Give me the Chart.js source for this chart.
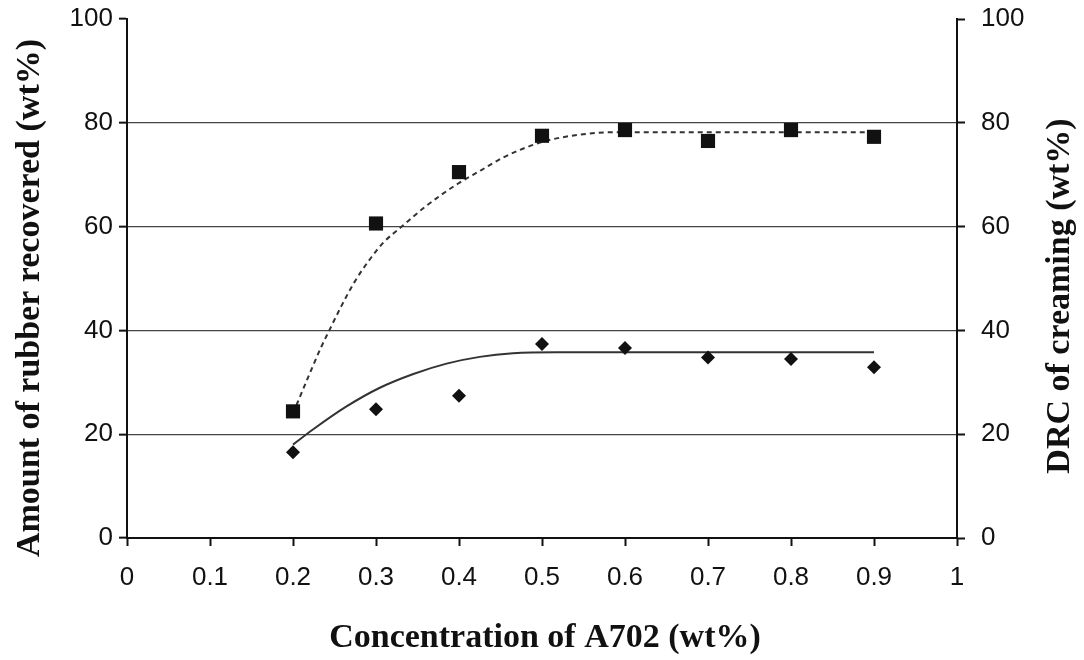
<!DOCTYPE html>
<html>
<head>
<meta charset="utf-8">
<script src="https://cdn.jsdelivr.net/npm/chart.js@4"></script>
<style>
  body { margin: 0; background: #fff; }
  canvas { display: block; }
</style>
</head>
<body>
<canvas id="chart" width="1084" height="660"></canvas>
<script>
// data
const concentration = [0.2, 0.3, 0.4, 0.5, 0.6, 0.7, 0.8, 0.9];
const rubberRecovered = [24.4, 60.6, 70.5, 77.5, 78.6, 76.5, 78.6, 77.3];
const drcCreaming = [16.5, 24.8, 27.4, 37.4, 36.6, 34.8, 34.5, 32.9];

// trend curves
const recoveredTrendX = [0.2, 0.206, 0.222, 0.234, 0.244, 0.258, 0.274, 0.294, 0.31, 0.331, 0.359, 0.399, 0.427, 0.453, 0.5, 0.54, 0.589, 0.65, 0.905];
const recoveredTrendY = [24, 26.3, 32.4, 36.8, 40.1, 44.6, 49.3, 54, 57.1, 60, 63.8, 68.3, 70.9, 73.3, 76.3, 77.6, 78.2, 78.2, 78.2];
const drcTrendX = [0.2, 0.224, 0.264, 0.304, 0.345, 0.385, 0.425, 0.465, 0.517, 0.6, 0.9];
const drcTrendY = [18, 20.9, 25.3, 28.9, 31.6, 33.6, 34.9, 35.6, 35.8, 35.8, 35.8];

const xTickLabels = ['0', '0.1', '0.2', '0.3', '0.4', '0.5', '0.6', '0.7', '0.8', '0.9', '1'];
const yTickLabels = ['0', '20', '40', '60', '80', '100'];

const toPoints = (xs, ys) => xs.map((x, i) => ({ x: x, y: ys[i] }));

const tickFont = { family: '"Liberation Sans", Arial, sans-serif', size: 26 };

// axis titles drawn by hand so they sit where the original has them
const axisTitles = {
  id: 'axisTitles',
  afterDraw(chart) {
    const ctx = chart.ctx;
    ctx.save();
    ctx.fillStyle = '#111';
    ctx.font = 'bold 34px "Liberation Serif", "Times New Roman", serif';
    ctx.textAlign = 'center';
    ctx.textBaseline = 'middle';
    ctx.fillText('Concentration of A702 (wt%)', 545, 638);

    ctx.save();
    ctx.translate(30, 298);
    ctx.rotate(-Math.PI / 2);
    ctx.fillText('Amount of rubber recovered (wt%)', 0, 0);
    ctx.restore();

    ctx.save();
    ctx.translate(1060, 296);
    ctx.rotate(-Math.PI / 2);
    ctx.fillText('DRC of creaming (wt%)', 0, 0);
    ctx.restore();
    ctx.restore();
  }
};

// keep the plot box fixed, whatever the tick labels need
const fitVertical = (w) => (scale) => {
  scale.width = w;
  scale.paddingTop = 0;
  scale.paddingBottom = 0;
};

new Chart(document.getElementById('chart'), {
  type: 'scatter',
  data: {
    datasets: [
      {
        label: 'Rubber recovered',
        data: toPoints(concentration, rubberRecovered),
        pointStyle: 'rect',
        pointRadius: 10,
        backgroundColor: '#111',
        borderColor: '#111',
        borderWidth: 0,
        yAxisID: 'y'
      },
      {
        label: 'DRC of creaming',
        data: toPoints(concentration, drcCreaming),
        pointStyle: 'rectRot',
        pointRadius: 7,
        backgroundColor: '#111',
        borderColor: '#111',
        borderWidth: 0,
        yAxisID: 'y2'
      },
      {
        label: 'Recovered trend',
        type: 'line',
        data: toPoints(recoveredTrendX, recoveredTrendY),
        borderColor: '#333',
        borderWidth: 2,
        borderDash: [5, 4],
        pointRadius: 0,
        cubicInterpolationMode: 'monotone',
        fill: false,
        yAxisID: 'y'
      },
      {
        label: 'DRC trend',
        type: 'line',
        data: toPoints(drcTrendX, drcTrendY),
        borderColor: '#333',
        borderWidth: 2,
        pointRadius: 0,
        cubicInterpolationMode: 'monotone',
        fill: false,
        yAxisID: 'y2'
      }
    ]
  },
  options: {
    responsive: false,
    animation: false,
    layout: { padding: { top: 19, left: 0, right: 0, bottom: 0 } },
    plugins: {
      legend: { display: false },
      tooltip: { enabled: false }
    },
    scales: {
      x: {
        type: 'linear',
        min: 0,
        max: 1,
        ticks: {
          stepSize: 0.1,
          color: '#111',
          font: tickFont,
          padding: 16,
          maxRotation: 0,
          callback: (v, i) => xTickLabels[i]
        },
        grid: {
          drawOnChartArea: false,
          drawTicks: true,
          tickLength: 8,
          tickColor: '#111',
          tickWidth: 2
        },
        border: { color: '#111', width: 2 },
        afterFit: (scale) => {
          scale.height = 122;
          scale.paddingLeft = 0;
          scale.paddingRight = 0;
        }
      },
      y: {
        position: 'left',
        min: 0,
        max: 100,
        ticks: {
          stepSize: 20,
          color: '#111',
          font: tickFont,
          padding: 6,
          callback: (v, i) => yTickLabels[i]
        },
        grid: {
          color: (c) => (c.tick && (c.tick.value === 0 || c.tick.value === 100)) ? 'rgba(0,0,0,0)' : '#444',
          lineWidth: 1.3,
          drawTicks: true,
          tickLength: 8,
          tickColor: '#111',
          tickWidth: 2
        },
        border: { color: '#111', width: 2 },
        afterFit: fitVertical(127)
      },
      y2: {
        position: 'right',
        min: 0,
        max: 100,
        ticks: {
          stepSize: 20,
          color: '#111',
          font: tickFont,
          padding: 16,
          callback: (v, i) => yTickLabels[i]
        },
        grid: {
          drawOnChartArea: false,
          drawTicks: true,
          tickLength: 8,
          tickColor: '#111',
          tickWidth: 2
        },
        border: { color: '#111', width: 2 },
        afterFit: fitVertical(127)
      }
    }
  },
  plugins: [axisTitles]
});
</script>
</body>
</html>
